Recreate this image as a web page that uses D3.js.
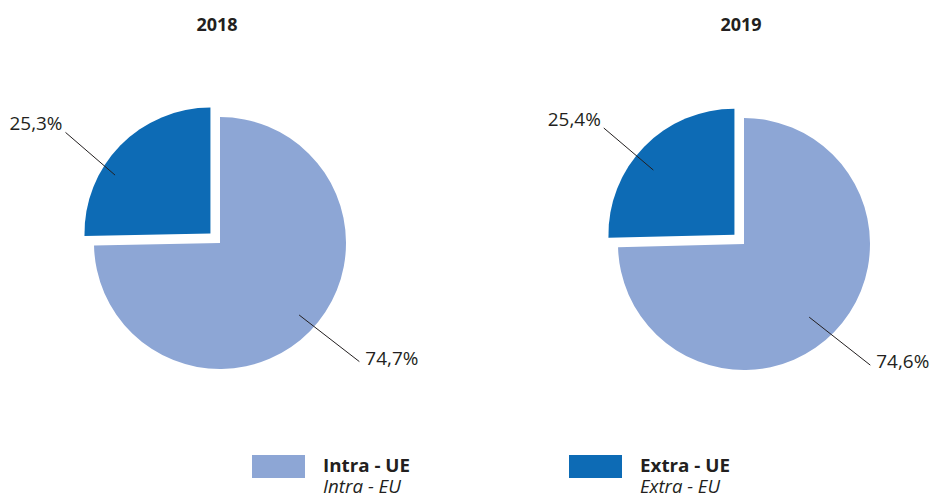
<!DOCTYPE html>
<html>
<head>
<meta charset="utf-8">
<script src="https://cdn.jsdelivr.net/npm/d3@7/dist/d3.min.js"></script>
<style>
  html, body { margin: 0; padding: 0; background: #fff; }
  svg { display: block; }
  text { font-family: "Open Sans", "DejaVu Sans", sans-serif; fill: #231f20; }
</style>
</head>
<body>
<svg id="chart" width="933" height="499"></svg>
<script>
// ---- data ----
const years = ["2018", "2019"];
const categories = ["Intra - UE", "Extra - UE"];
const categoriesEn = ["Intra - EU", "Extra - EU"];
const values2018 = [74.7, 25.3];
const values2019 = [74.6, 25.4];
const valueLabels2018 = ["74,7%", "25,3%"];
const valueLabels2019 = ["74,6%", "25,4%"];
const colors = ["#8da6d5", "#0d6bb5"];

// ---- layout ----
const svg = d3.select("#chart");
const radius = 126;
const explode = 13.4;
const pieCenters = [{x: 220, y: 243}, {x: 744, y: 244}];
// leader line geometry per pie: [light slice, dark slice]: angles (deg, clockwise from top) and radii
const leaderLayout = [
  [{aIn: 132.3, rIn: 107, aOut: 130.4, rOut: 183}, {aIn: 302.9, rIn: 125, aOut: 305.6, rOut: 190}],
  [{aIn: 138.3, rIn: 98, aOut: 133.8, rOut: 175}, {aIn: 309.2, rIn: 117, aOut: 309.6, rOut: 182}]
];

const color = d3.scaleOrdinal().domain(categories).range(colors);
const pie = d3.pie().sort(null).value(d => d.value).startAngle(0).endAngle(2 * Math.PI);
const arc = d3.arc().innerRadius(0).outerRadius(radius);

function polar(angDeg, r) {
  const a = angDeg * Math.PI / 180;
  return [Math.sin(a) * r, -Math.cos(a) * r];
}

const datasets = [
  {year: years[0], values: values2018, labels: valueLabels2018},
  {year: years[1], values: values2019, labels: valueLabels2019}
];

datasets.forEach((ds, i) => {
  const c = pieCenters[i];
  const g = svg.append("g").attr("transform", `translate(${c.x},${c.y})`);

  g.append("text")
    .attr("x", -3).attr("y", 31 - c.y)
    .attr("text-anchor", "middle")
    .style("font-weight", "700")
    .style("font-size", "18px")
    .text(ds.year);

  const data = categories.map((k, j) => ({key: k, value: ds.values[j], label: ds.labels[j]}));
  const arcs = pie(data);

  g.selectAll("path.slice")
    .data(arcs)
    .join("path")
    .attr("class", "slice")
    .attr("fill", d => color(d.data.key))
    .attr("transform", (d, j) => {
      if (j === 0) return null;
      const mid = (d.startAngle + d.endAngle) / 2;
      return `translate(${Math.sin(mid) * explode},${-Math.cos(mid) * explode})`;
    })
    .attr("d", arc);

  arcs.forEach((d, j) => {
    const L = leaderLayout[i][j];
    const p1 = polar(L.aIn, L.rIn);
    const p2 = polar(L.aOut, L.rOut);
    g.append("line")
      .attr("x1", p1[0]).attr("y1", p1[1])
      .attr("x2", p2[0]).attr("y2", p2[1])
      .attr("stroke", "#231f20")
      .attr("stroke-width", 1);
    const isLeft = p2[0] < 0;
    g.append("text")
      .attr("x", p2[0] + (isLeft ? -3 : 6))
      .attr("y", p2[1] + (isLeft ? -2 : 3))
      .attr("text-anchor", isLeft ? "end" : "start")
      .style("font-size", "19px")
      .attr("textLength", 53)
      .attr("lengthAdjust", "spacingAndGlyphs")
      .text(d.data.label);
  });
});

// ---- legend ----
const legendX = [252, 569];
const legend = svg.append("g");
categories.forEach((k, j) => {
  const lg = legend.append("g").attr("transform", `translate(${legendX[j]},455)`);
  lg.append("rect").attr("width", 53).attr("height", 23).attr("fill", color(k));
  lg.append("text")
    .attr("x", 71).attr("y", 17)
    .style("font-weight", "700").style("font-size", "18px")
    .attr("textLength", j === 0 ? 87 : 90)
    .attr("lengthAdjust", "spacingAndGlyphs")
    .text(k);
  lg.append("text")
    .attr("x", 71).attr("y", 38)
    .style("font-style", "italic").style("font-size", "18px")
    .attr("textLength", j === 0 ? 78 : 80)
    .attr("lengthAdjust", "spacingAndGlyphs")
    .text(categoriesEn[j]);
});
</script>
</body>
</html>
